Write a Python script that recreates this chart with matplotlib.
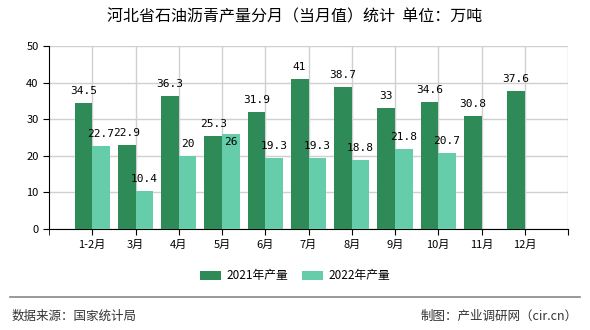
import matplotlib.pyplot as plt
import numpy as np
from matplotlib.lines import Line2D

plt.rcParams['font.family'] = ['Noto Sans CJK SC', 'DejaVu Sans']

months = ['1-2月', '3月', '4月', '5月', '6月', '7月', '8月', '9月', '10月', '11月', '12月']
prod_2021 = [34.5, 22.9, 36.3, 25.3, 31.9, 41, 38.7, 33, 34.6, 30.8, 37.6]
prod_2022 = [22.7, 10.4, 20, 26, 19.3, 19.3, 18.8, 21.8, 20.7, None, None]

c2021 = '#2E8B57'
c2022 = '#66CDAA'

fig = plt.figure(figsize=(5.9, 3.3), dpi=100)
ax = fig.add_axes([49/590, 1-229/330, (568-49)/590, (229-46)/330])

x = np.arange(1, len(months)+1)
w = 0.41

ax.bar(x - w/2, prod_2021, width=w, color=c2021, label='2021年产量', zorder=3)
x22 = [xi for xi, v in zip(x, prod_2022) if v is not None]
v22 = [v for v in prod_2022 if v is not None]
ax.bar(np.array(x22) + w/2, v22, width=w, color=c2022, label='2022年产量', zorder=3)

def fmt(v):
    return ('%g' % v)

for xi, v in zip(x, prod_2021):
    ax.annotate(fmt(v), (xi - w/2, v), xytext=(0, 5), textcoords='offset points',
                ha='center', va='bottom', fontsize=8, family='DejaVu Sans Mono', zorder=4)
for i, (xi, v) in enumerate(zip(x22, v22)):
    # the 5月 label sits inside its bar, as in the source chart
    if months[i] == '5月':
        off, va = (0, -2), 'top'
    else:
        off, va = (0, 5), 'bottom'
    ax.annotate(fmt(v), (xi + w/2, v), xytext=off, textcoords='offset points',
                ha='center', va=va, fontsize=8, family='DejaVu Sans Mono', zorder=4)

ax.set_xlim(0, 12)
ax.set_ylim(0, 50)
ax.set_yticks([0, 10, 20, 30, 40, 50])
ax.set_xticks(list(x) + [12])
ax.set_xticklabels(months + [''])
ax.tick_params(axis='both', labelsize=8, length=4, color='black')
ax.set_xticks([0, 12], minor=True)
ax.tick_params(axis='x', which='minor', length=4)

ax.grid(True, color='#d0d0d0', linewidth=1, zorder=0)
ax.set_axisbelow(True)
for s in ['top', 'right']:
    ax.spines[s].set_visible(False)
ax.spines['left'].set_color('black')
ax.spines['bottom'].set_color('black')

fig.text(0.5, 1-17/330, '河北省石油沥青产量分月（当月值）统计  单位：万吨',
         ha='center', va='center', fontsize=11.5)

fig.legend(loc='center', bbox_to_anchor=(0.5, 1-276/330), ncol=2, frameon=False,
           fontsize=8.5, handlelength=1.8, handleheight=0.9, columnspacing=1.2,
           handletextpad=0.4)

fig.add_artist(Line2D([10/590, 580/590], [1-297/330, 1-297/330], color='#888888', linewidth=1.2))
fig.text(12/590, 1-316/330, '数据来源：国家统计局', ha='left', va='center', fontsize=9, color='#333333')
fig.text(578/590, 1-316/330, '制图：产业调研网（cir.cn）', ha='right', va='center', fontsize=9, color='#333333')

fig.savefig('out.png', dpi=100)
